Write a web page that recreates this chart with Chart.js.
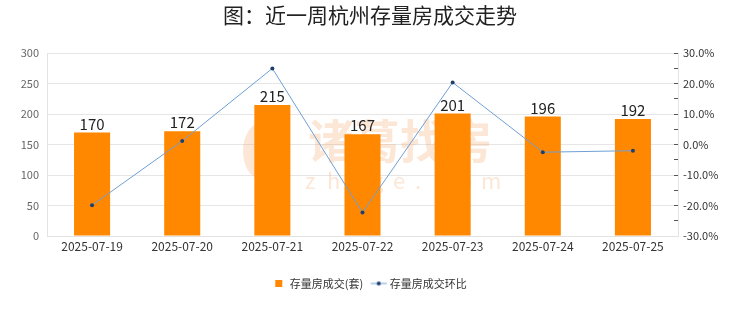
<!DOCTYPE html>
<html><head><meta charset="utf-8">
<script src="https://cdn.jsdelivr.net/npm/chart.js@4/dist/chart.umd.min.js"></script>
<style>html,body{margin:0;padding:0;background:#fff;}canvas{display:block;}</style>
</head><body>
<canvas id="c" width="740" height="312"></canvas>
<script>
const categories = ['2025-07-19','2025-07-20','2025-07-21','2025-07-22','2025-07-23','2025-07-24','2025-07-25'];
const volume = [170,172,215,167,201,196,192];
const changePct = [-19.9,1.2,25.0,-22.3,20.4,-2.5,-2.0];
const titleText = '图：近一周杭州存量房成交走势';
const seriesNames = ['存量房成交(套)','存量房成交环比'];

const FONT = '"Noto Sans CJK SC","Noto Sans",sans-serif';

const lineIcon = document.createElement('canvas');
lineIcon.width = 18; lineIcon.height = 8;
(function(){const g=lineIcon.getContext('2d');g.strokeStyle='#6f9fd4';g.lineWidth=1;g.beginPath();g.moveTo(1,4);g.lineTo(17,4);g.stroke();g.fillStyle='#1f3f6f';g.beginPath();g.arc(9,4,2,0,Math.PI*2);g.fill();})();

const watermark = {
  id:'watermark',
  beforeDatasetsDraw(chart){
    const ctx=chart.ctx; ctx.save();
    ctx.globalAlpha=0.25; ctx.fillStyle='#f5a05a';
    ctx.beginPath(); ctx.ellipse(261,151,18,28,0,0,Math.PI*2); ctx.fill();
    ctx.font='bold 46px '+FONT; ctx.textAlign='left'; ctx.textBaseline='middle';
    ctx.fillText('诸葛找房',308,141);
    ctx.font='22px '+FONT;
    const s='zhuge.com'; let x=305;
    for(const ch of s){ctx.fillText(ch,x,181); x+=22;}
    ctx.restore();
  }
};
const valueLabels = {
  id:'valueLabels',
  afterDatasetsDraw(chart){
    const ctx=chart.ctx; const meta=chart.getDatasetMeta(1);
    ctx.save(); ctx.font='15px '+FONT; ctx.fillStyle='#222'; ctx.textAlign='center'; ctx.textBaseline='bottom';
    meta.data.forEach((el,i)=>{ctx.fillText(String(volume[i]),el.x,el.y-1);});
    ctx.restore();
  }
};

new Chart(document.getElementById('c'),{
  data:{labels:categories,datasets:[
    {type:'line',label:seriesNames[1],data:changePct,yAxisID:'y1',borderColor:'#6f9fd4',borderWidth:1,pointRadius:2,pointBackgroundColor:'#1f3f6f',pointBorderColor:'#1f3f6f',pointBorderWidth:0,tension:0,order:0,pointStyle:'circle'},
    {type:'bar',label:seriesNames[0],data:volume,yAxisID:'y',backgroundColor:'#ff8800',barPercentage:0.4,categoryPercentage:1,order:1}
  ]},
  options:{
    responsive:false,animation:false,
    layout:{padding:{left:0,right:0,top:0,bottom:13}},
    plugins:{
      title:{display:true,text:titleText,color:'#222',font:{family:FONT,size:21,weight:'normal'},padding:{top:2,bottom:26}},
      legend:{position:'bottom',labels:{usePointStyle:true,color:'#333',font:{family:FONT,size:11},padding:10,boxHeight:7,
        generateLabels(chart){
          return [
            {text:seriesNames[0],fillStyle:'#ff8800',strokeStyle:'#ff8800',lineWidth:0,pointStyle:'rect',datasetIndex:1,fontColor:'#333'},
            {text:seriesNames[1],fillStyle:'#1f3f6f',strokeStyle:'#6f9fd4',lineWidth:0,pointStyle:lineIcon,datasetIndex:0,fontColor:'#333'}
          ];
        }}},
      tooltip:{enabled:false}
    },
    scales:{
      x:{grid:{display:false,drawTicks:false},border:{display:true,color:'#e3e3e3'},ticks:{color:'#333',font:{family:FONT,size:12},padding:3,maxRotation:0},
         afterFit(s){s.height=32;}},
      y:{position:'left',min:0,max:300,ticks:{stepSize:50,color:'#666',font:{family:FONT,size:11},padding:8},
         grid:{color:'#e6e6e6',drawTicks:false},border:{display:true,color:'#e3e3e3'},
         afterFit(s){s.width=47;}},
      y1:{position:'right',min:-30,max:30,ticks:{stepSize:5,color:'#333',font:{family:FONT,size:11},padding:9,autoSkip:false,
           callback:(v)=> (Math.round(v)%10===0 ? v.toFixed(1)+'%' : '')},
          grid:{drawOnChartArea:false,tickLength:-4,tickColor:'#555'},border:{display:true,color:'#e3e3e3'},
          afterFit(s){s.width=62;}}
    }
  },
  plugins:[watermark,valueLabels]
});
</script>
</body></html>
